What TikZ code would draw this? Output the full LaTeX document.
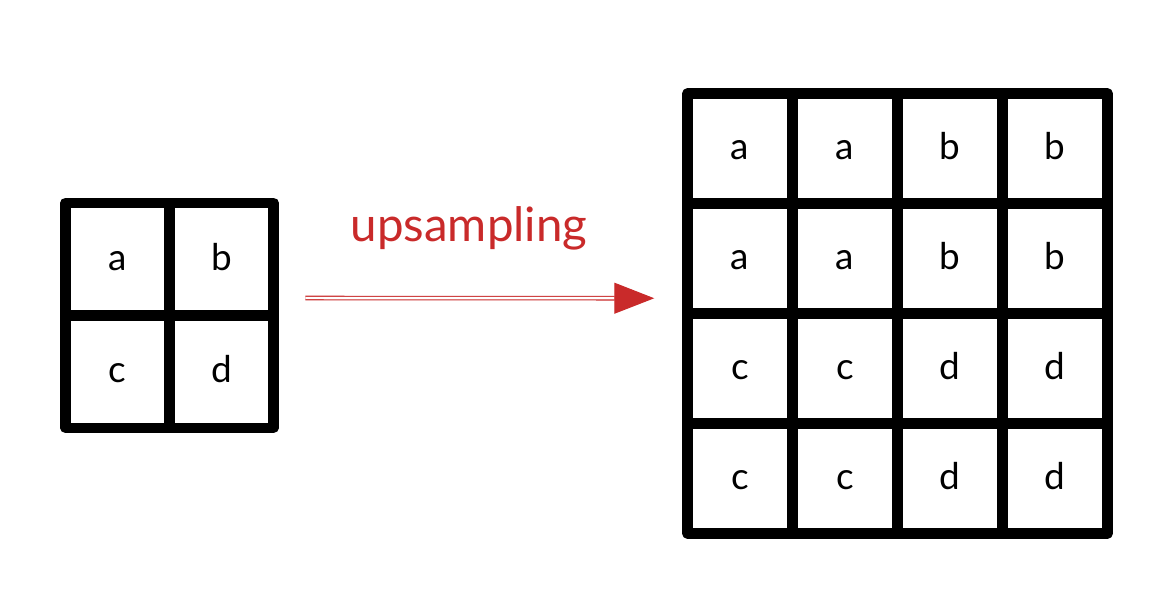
\documentclass[tikz,border=0pt]{standalone}
\usepackage{fontspec}
\setmainfont{Lato}
\usepackage{xcolor}
\usepackage{tikz}
\usetikzlibrary{arrows.meta, positioning}

\definecolor{upred}{RGB}{201,42,42}

\begin{document}
\begin{tikzpicture}[
  font=\fontsize{21}{25}\selectfont,
  smallcell/.style={
    draw=black,
    line width=0.21cm,
    line join=round,
    line cap=round,
    inner sep=0pt,
    text height=0.44cm,
    text depth=0cm,
    minimum width=2.08cm,
    minimum height=2.25cm
  },
  bigcell/.style={
    draw=black,
    line width=0.21cm,
    line join=round,
    line cap=round,
    inner sep=0pt,
    text height=0.44cm,
    text depth=0cm,
    minimum width=2.1cm,
    minimum height=2.2cm
  },
  upsample/.style={
    draw=upred,
    double=white,
    line width=0.6pt,
    double distance=1.4pt,
    -{Triangle[length=0.8cm, width=0.62cm, fill=upred]}
  }
]

\useasboundingbox (0,0) rectangle (23.42,-12.12);

% -------------------------------------------------------------------
% input 2x2 grid
% -------------------------------------------------------------------
\node[smallcell] (sa) at (2.35,-5.18) {a};
\node[smallcell] (sb) at (4.43,-5.18) {b};
\node[smallcell] (sc) at (2.35,-7.43) {c};
\node[smallcell] (sd) at (4.43,-7.43) {d};

% -------------------------------------------------------------------
% output 4x4 grid
% -------------------------------------------------------------------
\node[bigcell] (r1c1) at (14.8,-2.97) {a};
\node[bigcell] (r1c2) at (16.9,-2.97) {a};
\node[bigcell] (r1c3) at (19.0,-2.97) {b};
\node[bigcell] (r1c4) at (21.1,-2.97) {b};

\node[bigcell] (r2c1) at (14.8,-5.17) {a};
\node[bigcell] (r2c2) at (16.9,-5.17) {a};
\node[bigcell] (r2c3) at (19.0,-5.17) {b};
\node[bigcell] (r2c4) at (21.1,-5.17) {b};

\node[bigcell] (r3c1) at (14.8,-7.37) {c};
\node[bigcell] (r3c2) at (16.9,-7.37) {c};
\node[bigcell] (r3c3) at (19.0,-7.37) {d};
\node[bigcell] (r3c4) at (21.1,-7.37) {d};

\node[bigcell] (r4c1) at (14.8,-9.57) {c};
\node[bigcell] (r4c2) at (16.9,-9.57) {c};
\node[bigcell] (r4c3) at (19.0,-9.57) {d};
\node[bigcell] (r4c4) at (21.1,-9.57) {d};

% Arrow and label
\draw[upsample] ([shift={(0.53,0.24)}]sd.north east)
  -- ([shift={(-0.56,0.2)}]r3c1.north west);

\node[
  font=\fontsize{27}{31}\selectfont,
  text=upred
] (uplabel) at (9.38,-4.56)
{upsampling};

\end{tikzpicture}
\end{document}
